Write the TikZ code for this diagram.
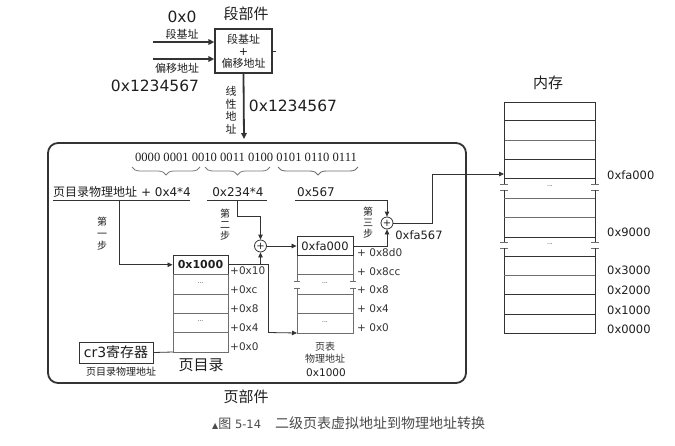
\documentclass[tikz,border=0pt]{standalone}
\usepackage{fontspec}
\setmainfont{DejaVu Sans}
\newfontfamily\cjk{Noto Sans CJK SC}
\newfontfamily\binfont{Liberation Serif}
\usetikzlibrary{arrows.meta,decorations.pathreplacing}

\definecolor{ink}{HTML}{1E1E1E}
\definecolor{rule}{HTML}{333333}
\definecolor{cellgray}{HTML}{6E6E6E}
\definecolor{softgray}{HTML}{7A7A7A}
\definecolor{captiongray}{HTML}{4A4A4A}

\newcommand\fsz[1]{\fontsize{#1}{#1}\selectfont}

\begin{document}
\begin{tikzpicture}[x=1pt,y=-1pt,
  every node/.style={inner sep=0pt, text=ink},
  thick arrow/.style={draw=rule, line width=1.8pt, -{Triangle[length=6pt,width=5.5pt]}},
  thin arrow/.style={draw=rule, line width=0.8pt, -{Triangle[length=5pt,width=4.5pt]}},
  thin line/.style={draw=rule, line width=0.8pt},
  cell line/.style={draw=cellgray, line width=0.8pt},
  tick/.style={draw=cellgray, line width=0.8pt},
  big hex/.style={font=\fsz{15.5}},
  hex/.style={font=\fsz{11.5}},
  offset/.style={font=\fsz{10.5}, text=rule, anchor=west},
  cn big/.style={font=\cjk\fsz{15}},
  cn/.style={font=\cjk\fsz{11}},
  cn small/.style={font=\cjk\fsz{10}, align=center},
  plus/.style={draw=rule, circle, line width=0.8pt, minimum size=12pt, font=\fsz{10}},
  dots/.style={font=\fsz{6}, text=rule},
]
\useasboundingbox (0,0) rectangle (675,445);

% ---------------- segment unit ----------------
\node[cn big] (segtitle) at (246,14) {段部件};
\node[draw=rule, line width=1.3pt, minimum width=57pt, minimum height=44pt,
      align=center, font=\cjk\fontsize{11}{12}\selectfont] (seg) at (243.5,51)
      {段基址\\{\rmfamily +}\\偏移地址};
\draw[thin line] (seg.east) -- ++(3,0);

\node[big hex] (base) at (182,17) {0x0};
\node[cn] (baselbl) at (182,34) {段基址};
\coordinate (inA) at (153,42);
\coordinate (inB) at (153,59);
\draw[thick arrow] (inA) -- (inA -| seg.west);
\draw[thick arrow] (inB) -- (inB -| seg.west);
\node[cn] (offlbl) at (177,68) {偏移地址};
\node[big hex] (offval) at (155,86) {0x1234567};

\coordinate (linTip) at (244,139);
\draw[thick arrow] (seg.south) -- (linTip);
\node[font=\cjk\fsz{11}, align=center] (linlbl) at (231,110)
      {线\\[1.5pt]性\\[1.5pt]地\\[1.5pt]址};
\node[big hex] (linval) at (293,106) {0x1234567};

% ---------------- page unit frame ----------------
\node[draw=rule, line width=1.8pt, rounded corners=10pt,
      minimum width=418pt, minimum height=240pt] (pageunit) at (257,263) {};
\node[cn big] (pagetitle) at (246,397) {页部件};

% binary split of the linear address
\node[font=\binfont\fsz{12.6}] (bits) at (246,157)
      {0000 0001 0010 0011 0100 0101 0110 0111};
\draw[draw=softgray, line width=0.8pt, decorate,
      decoration={brace, mirror, amplitude=8pt}] (132,167) -- (200,167);
\draw[draw=softgray, line width=0.8pt, decorate,
      decoration={brace, mirror, amplitude=8pt}] (205,167) -- (270,167);
\draw[draw=cellgray, line width=0.9pt, decorate,
      decoration={brace, mirror, amplitude=8pt}] (278,167) -- (358,167);

% index labels with underlines
\node[anchor=west, font=\fsz{12}] (dirlbl) at (53,192)
      {{\cjk 页目录物理地址} + 0x4*4};
\node[font=\fsz{12}] (tablbl) at (238,192) {0x234*4};
\node[anchor=west, font=\fsz{12}] (offl) at (297,192) {0x567};
\draw[thin line] (53,200) -- (190,200);
\draw[thin line] (207,200) -- (267,200);

% ---------------- page directory ----------------
\node[draw=rule, line width=0.9pt, minimum width=55pt, minimum height=19.5pt,
      font=\bfseries\fsz{11}] (pd0) at (200.5,264.75) {0x1000};
\draw[cell line] (173,274.5) rectangle (228,352);
\draw[cell line] (173,294) -- (228,294) (173,313) -- (228,313) (173,332.5) -- (228,332.5);
\node[dots] (pd1) at (200.5,283) {...};
\node[dots] (pd3) at (200.5,321.5) {...};
\coordinate (pdSW) at (173,352);
\node[offset] (o10) at (230,271) {+0x10};
\node[offset] (o0c) at (230,290) {+0xc};
\node[offset] (o08) at (230,309) {+0x8};
\node[offset] (o04) at (230,328) {+0x4};
\node[offset] (o00) at (230,347) {+0x0};
\node[cn big] (pdtitle) at (201,365) {页目录};

\node[draw=rule, line width=0.8pt, minimum width=74pt, minimum height=21pt,
      font=\fsz{14}] (cr3) at (116,352.5) {cr3{\cjk 寄存器}};
\node[cn small] (cr3lbl) at (121,371.5) {页目录物理地址};
\draw[thin line] (cr3.east) -- (pdSW);

% ---------------- page table ----------------
\node[draw=rule, line width=0.9pt, minimum width=56pt, minimum height=19pt,
      font=\fsz{11.5}] (pt0) at (325,246) {0xfa000};
\draw[cell line] (297,255.5) -- (297,281) (353,255.5) -- (353,281)
                 (297,274.5) -- (353,274.5);
\draw[tick] (294,281) -- (300,281) (350,281) -- (356,281)
            (294,288) -- (300,288) (350,288) -- (356,288);
\draw[cell line] (297,288) -- (297,333) -- (353,333) -- (353,288)
                 (297,294) -- (353,294) (297,313) -- (353,313);
\node[dots] (pt2) at (325,283) {...};
\node[dots] (pt5) at (325,322) {...};
\coordinate (ptSW) at (297,333);
\node[offset] (q8d0) at (357,253) {+ 0x8d0};
\node[offset] (q8cc) at (357,272) {+ 0x8cc};
\node[offset] (q8)   at (357,290) {+ 0x8};
\node[offset] (q4)   at (357,309) {+ 0x4};
\node[offset] (q0)   at (357,328) {+ 0x0};
\node[cn small, text=rule] (ptlbl) at (325,353)
      {页表\\[2pt]物理地址};
\node[font=\fsz{10.5}] (ptaddr) at (326,373) {0x1000};

% ---------------- adders and steps ----------------
\node[plus] (add1) at (260.5,246) {+};
\node[plus] (add2) at (387,223) {+};

\node[cn small] (step1) at (102,234) {第\\[2pt]一\\[2pt]步};
\node[cn small] (step2) at (225,225) {第\\[1pt]二\\[1pt]步};
\node[cn small] (step3) at (368,222.5) {第\\[1pt]三\\[1pt]步};

\coordinate (s1) at (119,200);
\coordinate (s2) at (237,200);
\coordinate (s3) at (295,200);
\draw[thin arrow] (s1) |- (pd0.west);
\draw[thin arrow] (s2) -- (237,216) -| (add1.north);
\draw[thin line] (pd0.east) -- (268,264.75) -- (268,332.5);
\draw[thin arrow] (add1.south |- pd0.east) -- (add1.south);
\draw[thin arrow] (268,332.5) -- (ptSW);
\draw[thin arrow] (add1.east) -- (pt0.west);
\draw[thin arrow] (pt0.east) -| (add2.south);
\draw[thin arrow] (s3) -| (add2.north);
\node[font=\fsz{11.5}] (physval) at (419,235) {0xfa567};

% ---------------- physical memory ----------------
\node[cn big] (memtitle) at (548,83) {内存};
\coordinate (memIn) at (504,174);
\draw[thin arrow] (add2.east) -- (432,223) |- (memIn);

\draw[thin line] (504,102) -- (595,102);
\draw[thin line] (504,120) -- (595,120) (504,159) -- (595,159) (504,178) -- (595,178);
\draw[cell line] (504,140) -- (595,140);
\draw[thin line] (504,102) -- (504,184) (595,102) -- (595,184);
\draw[tick] (500,184) -- (508,184) (591,184) -- (599,184)
            (500,190) -- (508,190) (591,190) -- (599,190);
\node[dots] (mem1) at (550,186) {...};
\draw[thin line] (504,190) -- (504,242) (595,190) -- (595,242);
\draw[cell line] (504,198) -- (595,198) (504,217) -- (595,217);
\draw[thin line] (504,237) -- (595,237);
\draw[tick] (500,242) -- (508,242) (591,242) -- (599,242)
            (500,248) -- (508,248) (591,248) -- (599,248);
\node[dots] (mem2) at (550,244.5) {...};
\draw[thin line] (504,248) -- (504,333) -- (595,333) -- (595,248);
\draw[thin line] (504,256) -- (595,256) (504,294) -- (595,294) (504,314) -- (595,314);
\draw[cell line] (504,275) -- (595,275);

\node[hex, anchor=west] (mfa) at (607,175) {0xfa000};
\node[hex, anchor=west] (m9)  at (607,232) {0x9000};
\node[hex, anchor=west] (m3)  at (607,270) {0x3000};
\node[hex, anchor=west] (m2)  at (607,290) {0x2000};
\node[hex, anchor=west] (m1)  at (607,310) {0x1000};
\node[hex, anchor=west] (m0)  at (607,329) {0x0000};

% ---------------- caption ----------------
\node[anchor=west, text=captiongray, font=\fsz{11.5}] (caption) at (212,423)
  {{\fsz{8}▲}{\cjk\fsz{13}图} 5-14\hspace{14pt}{\cjk\fsz{14}二级页表虚拟地址到物理地址转换}};
\end{tikzpicture}
\end{document}
